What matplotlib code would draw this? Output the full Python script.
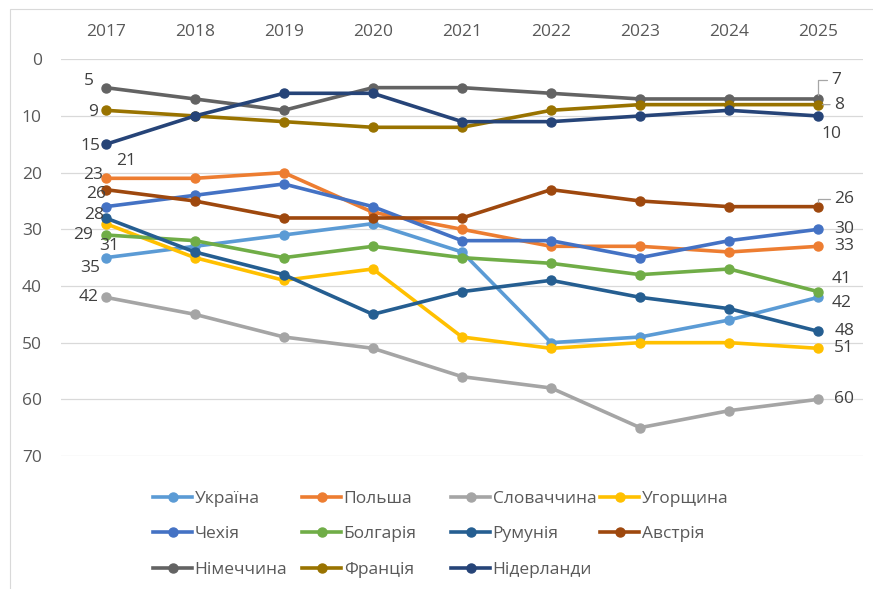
import matplotlib
matplotlib.use("Agg")
import matplotlib.pyplot as plt
from matplotlib.lines import Line2D
from matplotlib.patches import Rectangle

plt.rcParams['font.family'] = ['Open Sans', 'DejaVu Sans']

years = ["2017", "2018", "2019", "2020", "2021", "2022", "2023", "2024", "2025"]

ukraine = [35, 33, 31, 29, 34, 50, 49, 46, 42]
poland = [21, 21, 20, 27, 30, 33, 33, 34, 33]
slovakia = [42, 45, 49, 51, 56, 58, 65, 62, 60]
hungary = [29, 35, 39, 37, 49, 51, 50, 50, 51]
czechia = [26, 24, 22, 26, 32, 32, 35, 32, 30]
bulgaria = [31, 32, 35, 33, 35, 36, 38, 37, 41]
romania = [28, 34, 38, 45, 41, 39, 42, 44, 48]
austria = [23, 25, 28, 28, 28, 23, 25, 26, 26]
germany = [5, 7, 9, 5, 5, 6, 7, 7, 7]
france = [9, 10, 11, 12, 12, 9, 8, 8, 8]
netherlands = [15, 10, 6, 6, 11, 11, 10, 9, 10]

series = [
    ("Україна", ukraine, "#5B9BD5"),
    ("Польша", poland, "#ED7D31"),
    ("Словаччина", slovakia, "#A5A5A5"),
    ("Угорщина", hungary, "#FFC000"),
    ("Чехія", czechia, "#4472C4"),
    ("Болгарія", bulgaria, "#70AD47"),
    ("Румунія", romania, "#255E91"),
    ("Австрія", austria, "#9E480E"),
    ("Німеччина", germany, "#636363"),
    ("Франція", france, "#997300"),
    ("Нідерланди", netherlands, "#264478"),
]

# label offsets in pixels (first point, last point)
left_off = {
    "Німеччина": (-17, 7), "Франція": (-13, -2), "Нідерланди": (-15, -2),
    "Польша": (20, 17), "Австрія": (-13, 15), "Чехія": (-10, 13),
    "Румунія": (-12, 3), "Угорщина": (-23, -11), "Болгарія": (3, -11),
    "Україна": (-16, -10), "Словаччина": (-17, 0),
}
right_off = {
    "Німеччина": (18, 19), "Франція": (21, 0), "Нідерланди": (13, -18),
    "Австрія": (26, 8), "Чехія": (26, 0), "Польша": (26, 0),
    "Болгарія": (23, 13), "Україна": (23, -6), "Румунія": (26, 0),
    "Угорщина": (26, 0), "Словаччина": (26, 0),
}
leaders = {"Німеччина": "angle", "Австрія": "angle", "Франція": "straight"}

W, H = 873, 589
fig = plt.figure(figsize=(W / 100, H / 100), dpi=100)
ax = fig.add_axes([61.2 / W, 1 - 456 / H, (862.8 - 61.2) / W, (456 - 59.3) / H])

fig.add_artist(Rectangle((9.5 / W, -0.1), 2, 1.1 - 9.5 / H, transform=fig.transFigure,
                         fill=False, edgecolor="#D9D9D9", linewidth=0.8))

x = list(range(len(years)))
handles = {}
for name, vals, color in series:
    ln, = ax.plot(x, vals, color=color, linewidth=2.6, marker="o", markersize=6.5,
                  solid_capstyle="round", zorder=3)
    handles[name] = ln

    dx, dy = left_off[name]
    ax.annotate(str(vals[0]), (x[0], vals[0]), xytext=(dx, dy), textcoords="offset pixels",
                ha="center", va="center", fontsize=12.5, color="#404040", zorder=4)
    dx, dy = right_off[name]
    arrow = None
    if name in leaders:
        cs = "angle,angleA=0,angleB=90,rad=0" if leaders[name] == "angle" else "arc3"
        arrow = dict(arrowstyle="-", color="#A6A6A6", lw=0.9, connectionstyle=cs,
                     shrinkA=1, shrinkB=3)
    ax.annotate(str(vals[-1]), (x[-1], vals[-1]), xytext=(dx, dy), textcoords="offset pixels",
                ha="center", va="center", fontsize=12.5, color="#404040", zorder=4,
                arrowprops=arrow)

ax.set_xlim(-0.5, len(years) - 0.5)
ax.set_ylim(70, 0)
ax.set_yticks(range(0, 71, 10))
ax.set_xticks(x)
ax.set_xticklabels(years)
ax.xaxis.tick_top()
ax.tick_params(axis="both", length=0, labelsize=12.5, labelcolor="#595959")
ax.tick_params(axis="x", pad=14)
ax.tick_params(axis="y", pad=14)
ax.grid(axis="y", color="#D9D9D9", linewidth=0.9)
ax.set_axisbelow(True)
for s in ax.spines.values():
    s.set_visible(False)

# legend: 4 equal-width columns like the original
cols = [
    ["Україна", "Чехія", "Німеччина"],
    ["Польша", "Болгарія", "Франція"],
    ["Словаччина", "Румунія", "Нідерланди"],
    ["Угорщина", "Австрія"],
]
col_x = [153, 302, 451, 600]
for cx, names in zip(col_x, cols):
    hs = [Line2D([], [], color=handles[n].get_color(), linewidth=2.6, marker="o",
                 markersize=6.5) for n in names]
    fig.legend(hs, names, loc="upper left", bbox_to_anchor=(cx / W, 1 - 491 / H),
               frameon=False, borderpad=0, borderaxespad=0, handlelength=2.25,
               handletextpad=0.15, labelspacing=1.1, fontsize=12.5, labelcolor="#595959")

fig.savefig("out.png", dpi=100)
